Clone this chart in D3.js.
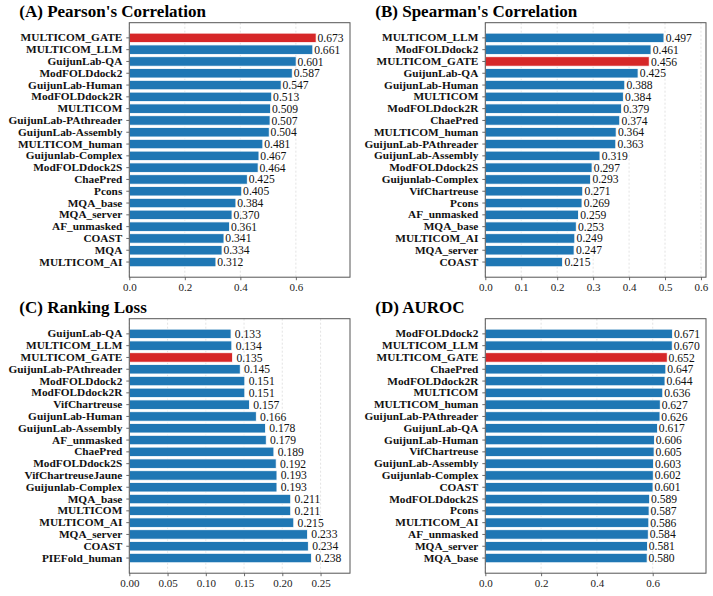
<!DOCTYPE html>
<html>
<head>
<meta charset="utf-8">
<script src="https://cdn.jsdelivr.net/npm/d3@7"></script>
<style>
  body { margin: 0; background: #fff; }
  svg { display: block; }
</style>
</head>
<body>
<div id="chart"></div>
<script>
// panel data
const pearsonNames = ["MULTICOM_GATE", "MULTICOM_LLM", "GuijunLab-QA", "ModFOLDdock2", "GuijunLab-Human",
  "ModFOLDdock2R", "MULTICOM", "GuijunLab-PAthreader", "GuijunLab-Assembly", "MULTICOM_human",
  "Guijunlab-Complex", "ModFOLDdock2S", "ChaePred", "Pcons", "MQA_base", "MQA_server",
  "AF_unmasked", "COAST", "MQA", "MULTICOM_AI"];
const pearsonValues = [0.673, 0.661, 0.601, 0.587, 0.547, 0.513, 0.509, 0.507, 0.504, 0.481,
  0.467, 0.464, 0.425, 0.405, 0.384, 0.370, 0.361, 0.341, 0.334, 0.312];
const pearsonTicks = [0, 0.2, 0.4, 0.6];

const spearmanNames = ["MULTICOM_LLM", "ModFOLDdock2", "MULTICOM_GATE", "GuijunLab-QA", "GuijunLab-Human",
  "MULTICOM", "ModFOLDdock2R", "ChaePred", "MULTICOM_human", "GuijunLab-PAthreader",
  "GuijunLab-Assembly", "ModFOLDdock2S", "Guijunlab-Complex", "VifChartreuse", "Pcons",
  "AF_unmasked", "MQA_base", "MULTICOM_AI", "MQA_server", "COAST"];
const spearmanValues = [0.497, 0.461, 0.456, 0.425, 0.388, 0.384, 0.379, 0.374, 0.364, 0.363,
  0.319, 0.297, 0.293, 0.271, 0.269, 0.259, 0.253, 0.249, 0.247, 0.215];
const spearmanTicks = [0, 0.1, 0.2, 0.3, 0.4, 0.5, 0.6];

const lossNames = ["GuijunLab-QA", "MULTICOM_LLM", "MULTICOM_GATE", "GuijunLab-PAthreader", "ModFOLDdock2",
  "ModFOLDdock2R", "VifChartreuse", "GuijunLab-Human", "GuijunLab-Assembly", "AF_unmasked",
  "ChaePred", "ModFOLDdock2S", "VifChartreuseJaune", "Guijunlab-Complex", "MQA_base",
  "MULTICOM", "MULTICOM_AI", "MQA_server", "COAST", "PIEFold_human"];
const lossValues = [0.133, 0.134, 0.135, 0.145, 0.151, 0.151, 0.157, 0.166, 0.178, 0.179,
  0.189, 0.192, 0.193, 0.193, 0.211, 0.211, 0.215, 0.233, 0.234, 0.238];
const lossTicks = [0, 0.05, 0.10, 0.15, 0.20, 0.25];

const aurocNames = ["ModFOLDdock2", "MULTICOM_LLM", "MULTICOM_GATE", "ChaePred", "ModFOLDdock2R",
  "MULTICOM", "MULTICOM_human", "GuijunLab-PAthreader", "GuijunLab-QA", "GuijunLab-Human",
  "VifChartreuse", "GuijunLab-Assembly", "Guijunlab-Complex", "COAST", "ModFOLDdock2S",
  "Pcons", "MULTICOM_AI", "AF_unmasked", "MQA_server", "MQA_base"];
const aurocValues = [0.671, 0.670, 0.652, 0.647, 0.644, 0.636, 0.627, 0.626, 0.617, 0.606,
  0.605, 0.603, 0.602, 0.601, 0.589, 0.587, 0.586, 0.584, 0.581, 0.580];
const aurocTicks = [0, 0.2, 0.4, 0.6];

const highlight = "MULTICOM_GATE";

const W = 713, H = 596;
const svg = d3.select("#chart").append("svg")
  .attr("width", W).attr("height", H);

const serif = "'Liberation Serif', 'Times New Roman', serif";

const panels = [
  { title: "(A) Pearson's Correlation", names: pearsonNames, values: pearsonValues, ticks: pearsonTicks,
    xmax: 0.795, fmt: ".1f", left: 129.3, top: 22.7 },
  { title: "(B) Spearman's Correlation", names: spearmanNames, values: spearmanValues, ticks: spearmanTicks,
    xmax: 0.614, fmt: ".1f", left: 485.3, top: 22.7 },
  { title: "(C) Ranking Loss", names: lossNames, values: lossValues, ticks: lossTicks,
    xmax: 0.2885, fmt: ".2f", left: 129.3, top: 318.7 },
  { title: "(D) AUROC", names: aurocNames, values: aurocValues, ticks: aurocTicks,
    xmax: 0.791, fmt: ".1f", left: 485.3, top: 318.7 }
];

const pw = 220.7, ph = 254.5;

panels.forEach(p => {
  const g = svg.append("g").attr("transform", `translate(${p.left},${p.top})`);

  const x = d3.scaleLinear().domain([0, p.xmax]).range([0, pw]);
  const y = d3.scaleBand().domain(p.names).range([0, ph])
    .paddingInner(0.2).paddingOuter(0.885);

  // faint dashed grid
  g.append("g").selectAll("line")
    .data(p.ticks).enter().append("line")
    .attr("x1", d => x(d)).attr("x2", d => x(d))
    .attr("y1", 0).attr("y2", ph)
    .attr("stroke", "#c8c8c8").attr("stroke-width", 0.7)
    .attr("stroke-dasharray", "2,2").attr("opacity", 0.7);

  const rows = p.names.map((n, i) => ({ name: n, value: p.values[i] }));

  g.append("g").selectAll("rect")
    .data(rows).enter().append("rect")
    .attr("x", 0)
    .attr("y", d => y(d.name))
    .attr("width", d => x(d.value))
    .attr("height", y.bandwidth())
    .attr("fill", d => d.name === highlight ? "#d62728" : "#1f77b4")
    .attr("stroke", "#fff").attr("stroke-width", 0.8);

  g.append("g").selectAll("text")
    .data(rows).enter().append("text")
    .attr("x", d => x(d.value + 0.005))
    .attr("y", d => y(d.name) + y.bandwidth() / 2)
    .attr("dy", "0.35em")
    .style("font-family", serif).style("font-size", "11.6px")
    .attr("fill", "#111")
    .text(d => d.value.toFixed(3));

  // y axis
  const ya = g.append("g").call(d3.axisLeft(y).tickSize(3).tickPadding(4));
  ya.select(".domain").remove();
  ya.selectAll("line").attr("stroke", "#444").attr("stroke-width", 0.8);
  ya.selectAll("text")
    .style("font-family", serif).style("font-size", "11.3px")
    .style("font-weight", "bold").attr("fill", "#111");

  // x axis
  const xa = g.append("g").attr("transform", `translate(0,${ph})`)
    .call(d3.axisBottom(x).tickValues(p.ticks).tickFormat(d3.format(p.fmt)).tickSize(3).tickPadding(3));
  xa.select(".domain").remove();
  xa.selectAll("line").attr("stroke", "#444").attr("stroke-width", 0.8);
  xa.selectAll("text")
    .style("font-family", serif).style("font-size", "11px").attr("fill", "#222");

  // frame
  g.append("rect")
    .attr("x", 0).attr("y", 0).attr("width", pw).attr("height", ph)
    .attr("fill", "none").attr("stroke", "#555").attr("stroke-width", 1);

  svg.append("text")
    .attr("x", p.left - 110).attr("y", p.top - 5.4)
    .style("font-family", serif).style("font-size", "17px").style("font-weight", "bold")
    .attr("fill", "#000")
    .text(p.title);
});
</script>
</body>
</html>
